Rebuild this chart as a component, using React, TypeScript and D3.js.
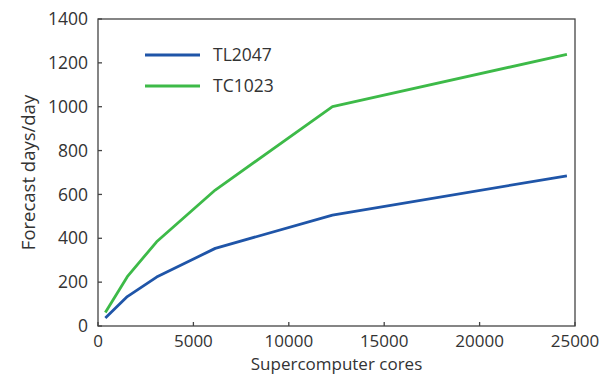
import React from 'react';
import * as d3 from 'd3';

const cores = [384, 1536, 3072, 6144, 12288, 24576];
const tl2047 = [36, 134, 223, 354, 506, 685];
const tc1023 = [62, 225, 384, 620, 1000, 1239];
const seriesNames = ['TL2047', 'TC1023'];
const seriesColors = ['#1f55a8', '#3dba48'];
const xTicks = [0, 5000, 10000, 15000, 20000, 25000];
const yTicks = [0, 200, 400, 600, 800, 1000, 1200, 1400];

export default function App() {
  const width = 606;
  const height = 375;
  const margin = { top: 19, right: 31, bottom: 49, left: 98 };
  const innerW = width - margin.left - margin.right;
  const innerH = height - margin.top - margin.bottom;

  const x = d3.scaleLinear().domain([0, 25000]).range([0, innerW]);
  const y = d3.scaleLinear().domain([0, 1400]).range([innerH, 0]);

  const line = d3
    .line<number>()
    .x((_, i) => x(cores[i]))
    .y((d) => y(d));

  const series = [tl2047, tc1023];
  const font = "'Open Sans', sans-serif";
  const textColor = '#333';

  return (
    <svg
      width={width}
      height={height}
      style={{ position: 'absolute', left: 0, top: 0 }}
      fontFamily={font}
    >
      <rect width={width} height={height} fill="#fff" />
      <g transform={`translate(${margin.left},${margin.top})`}>
        {series.map((s, i) => (
          <path
            key={seriesNames[i]}
            d={line(s) || ''}
            fill="none"
            stroke={seriesColors[i]}
            strokeWidth={2.8}
            strokeLinejoin="round"
          />
        ))}

        {/* frame */}
        <rect
          x={0}
          y={0}
          width={innerW}
          height={innerH}
          fill="none"
          stroke="#444"
          strokeWidth={1.3}
        />

        {/* x ticks, pointing inward */}
        {xTicks.map((t) => (
          <g key={'x' + t} transform={`translate(${x(t)},${innerH})`}>
            <line y1={0} y2={-4} stroke="#444" strokeWidth={1.3} />
            <text
              y={20.5}
              textAnchor="middle"
              fontSize={17}
              fill={textColor}
            >
              {t}
            </text>
          </g>
        ))}

        {/* y ticks */}
        {yTicks.map((t) => (
          <g key={'y' + t} transform={`translate(0,${y(t)})`}>
            <line x1={0} x2={4} stroke="#444" strokeWidth={1.3} />
            <text
              x={-10}
              dy="0.35em"
              textAnchor="end"
              fontSize={17.5}
              fill={textColor}
            >
              {t}
            </text>
          </g>
        ))}

        {/* legend */}
        {seriesNames.map((name, i) => (
          <g key={'leg' + name} transform={`translate(47,${36 + i * 31})`}>
            <line x1={0} x2={55} stroke={seriesColors[i]} strokeWidth={2.8} />
            <text x={68} dy="0.35em" fontSize={17.5} fill={textColor}>
              {name}
            </text>
          </g>
        ))}
      </g>

      <text
        x={margin.left + innerW / 2}
        y={370}
        textAnchor="middle"
        fontSize={17}
        fill={textColor}
      >
        Supercomputer cores
      </text>
      <text
        transform={`translate(35,${margin.top + innerH / 2}) rotate(-90)`}
        textAnchor="middle"
        fontSize={18.5}
        fill={textColor}
      >
        Forecast days/day
      </text>
    </svg>
  );
}
